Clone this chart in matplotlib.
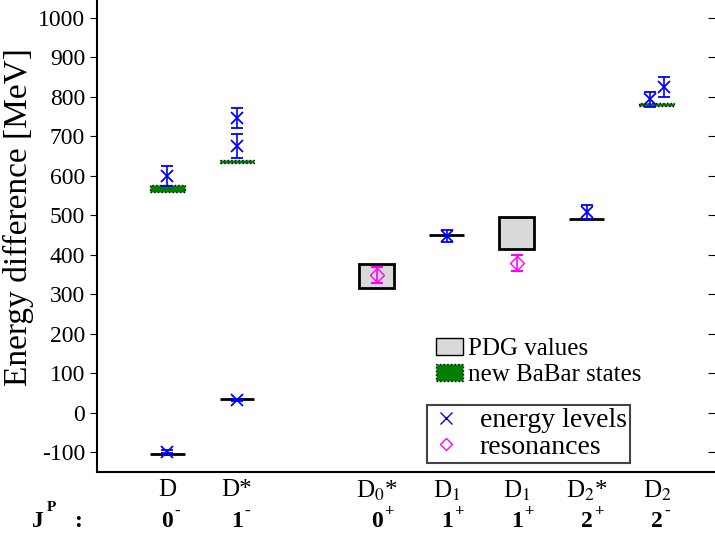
import matplotlib.pyplot as plt
from matplotlib.patches import Patch
from matplotlib.lines import Line2D

plt.rcParams['font.family'] = ['Liberation Serif', 'DejaVu Serif']
plt.rcParams['mathtext.fontset'] = 'stix'
plt.rcParams['axes.unicode_minus'] = False

# categories
xpos = [1, 2, 4, 5, 6, 7, 8]
names = ['D', 'D*', 'D$_0$*', 'D$_1$', 'D$_1$', 'D$_2$*', 'D$_2$']
jp_num = ['0', '1', '0', '1', '1', '2', '2']
jp_par = ['-', '-', '+', '+', '+', '+', '-']

# black reference lines
line_x = [1, 2, 5, 7]
line_y = [-105, 35, 449, 490]

# PDG boxes
pdg_x = [4, 6]
pdg_lo = [316, 414]
pdg_hi = [376, 496]

# new BaBar states
babar_x = [1, 2, 8]
babar_y = [568, 637, 781]
babar_hw = [8, 4, 4]

# energy levels
lev_x = [1, 1, 2, 2, 2, 5, 7, 7.9, 8.1]
lev_y = [-98, 600, 746, 675, 33, 448, 508, 794, 825]
lev_err = [3, 26, 25, 30, 3, 15, 17, 19, 25]

# resonances
res_x = [4, 6]
res_y = [349, 379]
res_err = [21, 20]

fig = plt.figure(figsize=(7.15, 5.34), dpi=100)
ax = fig.add_axes([0.1357, 0.116, 0.8643, 0.884])

w = 0.5
ax.bar(pdg_x, [h - l for h, l in zip(pdg_hi, pdg_lo)], bottom=pdg_lo, width=w,
       facecolor='#d9d9d9', edgecolor='black', linewidth=2, zorder=2)
ax.bar(babar_x, [2 * h for h in babar_hw], bottom=[y - h for y, h in zip(babar_y, babar_hw)],
       width=w, facecolor='#007f00', edgecolor='black', linewidth=1, linestyle=':', zorder=3)
ax.hlines(line_y, [x - w / 2 for x in line_x], [x + w / 2 for x in line_x],
          colors='black', linewidth=2, zorder=2)

ax.errorbar(lev_x, lev_y, yerr=lev_err, fmt='x', color='blue', markersize=9,
            capsize=4.5, elinewidth=1.2, capthick=1.5, mew=1.3, zorder=4)
ax.errorbar(res_x, res_y, yerr=res_err, fmt='D', color='magenta', mfc='none', markersize=7,
            capsize=4.5, elinewidth=1.2, capthick=1.5, zorder=4)

ax.set_xlim(0, 8.83)
ax.set_ylim(-150, 1045)
ax.set_yticks(range(-100, 1001, 100))
ax.tick_params(axis='y', labelsize=17, direction='out', length=5)
ax.set_xticks(xpos)
ax.set_xticklabels(names, fontsize=18)
ax.tick_params(axis='x', length=0, pad=5)
ax.set_ylabel('Energy difference [MeV]', fontsize=24)
ax.yaxis.set_label_coords(-0.102, 0.54)
for s in ['top', 'right']:
    ax.spines[s].set_visible(False)
ax.spines['bottom'].set_linewidth(1.5)
ax.spines['left'].set_linewidth(1.5)

ax2 = ax.twinx()
ax2.set_ylim(ax.get_ylim())
ax2.set_yticks(range(-100, 1001, 100))
ax2.tick_params(axis='y', direction='in', length=5, labelright=False)
for s in ['top', 'right', 'left', 'bottom']:
    ax2.spines[s].set_visible(False)

tr = ax.get_xaxis_transform()
for x, n, p in zip(xpos, jp_num, jp_par):
    ax.text(x, -0.105, n, transform=tr, ha='center', va='center', fontsize=17, fontweight='bold')
    ax.text(x + 0.1, -0.085, p, transform=tr, ha='left', va='center', fontsize=12, fontweight='bold')
fig.text(0.045, 0.024, 'J', fontsize=17, fontweight='bold', ha='left', va='center')
fig.text(0.066, 0.05, 'P', fontsize=11, fontweight='bold', ha='left', va='center')
fig.text(0.103, 0.024, ':', fontsize=17, fontweight='bold', ha='left', va='center')

h1 = [Patch(facecolor='#d9d9d9', edgecolor='black'),
      Patch(facecolor='#007f00', edgecolor='black', linestyle=':')]
leg1 = ax.legend(h1, ['PDG values', 'new BaBar states'], loc='upper left',
                 bbox_to_anchor=(0.548, 0.285), frameon=False, fontsize=18,
                 handlelength=1.1, handletextpad=0.2, labelspacing=0.15, borderpad=0,
                 borderaxespad=0)
ax.add_artist(leg1)
h2 = [Line2D([], [], marker='x', color='blue', linestyle='none', markersize=8),
      Line2D([], [], marker='D', color='magenta', mfc='none', linestyle='none', markersize=6)]
leg2 = ax.legend(h2, ['energy levels', 'resonances'], loc='upper left',
                 bbox_to_anchor=(0.534, 0.142), fontsize=20, fancybox=False,
                 edgecolor='#444444', framealpha=1, handlelength=1.2, handletextpad=0.6,
                 labelspacing=0.05, borderpad=0.1, borderaxespad=0)
leg2.get_frame().set_linewidth(1.5)

fig.savefig('out.png', dpi=100)
